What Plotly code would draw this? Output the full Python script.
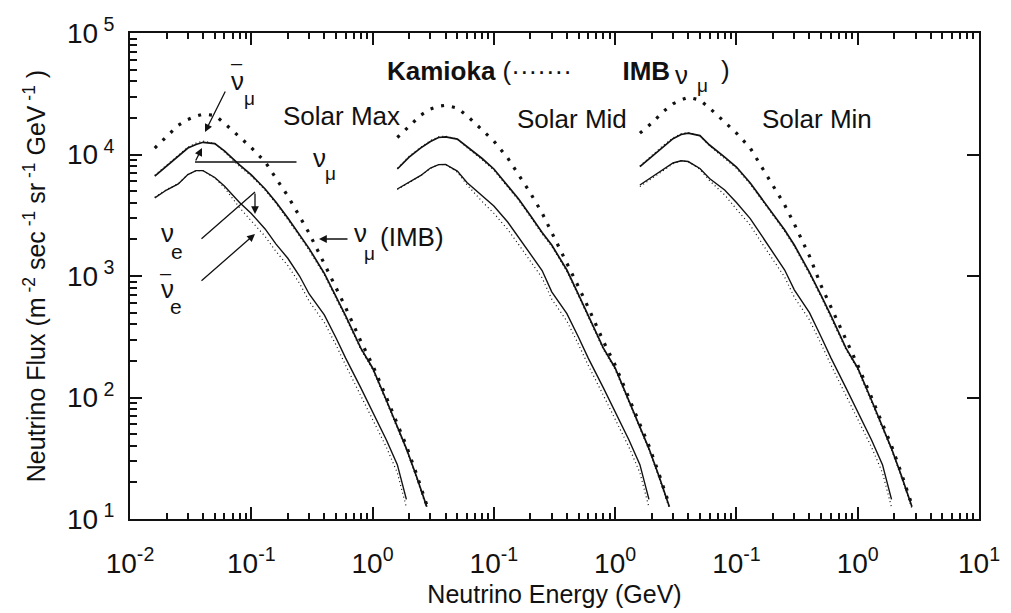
import plotly.graph_objects as go

INK = "#111111"
FONT = "Liberation Sans, Arial, Helvetica, sans-serif"

# ---------------- data ----------------
ENERGY_GEV = [0.016, 0.02, 0.025, 0.03, 0.035, 0.04, 0.05, 0.06, 0.08, 0.1, 0.13, 0.16,
              0.2, 0.25, 0.3, 0.4, 0.5, 0.6, 0.8, 1.0, 1.3, 1.6, 1.9, 2.3, 2.8]

PANEL_LABELS = ["Solar Max", "Solar Mid", "Solar Min"]
PANEL_SHIFT_DECADES = [0, 2, 4]

# Solar Max
IMB_NUMU_MAX = [11300, 14100, 17400, 19400, 20700, 21500, 21000, 18100, 13900, 11400, 8700, 6300,
                4550, 3100, 2250, 1260, 800, 550, 290, 185, 100, 60, 40, 23.5, 13]
NUMU_MAX = [6650, 8000, 9800, 11300, 12100, 12600, 12300, 10700, 8200, 6800, 5200, 4050,
            3000, 2200, 1680, 1050, 680, 470, 255, 175, 95, 57, 38, 22.5, 12.6]
NUMUBAR_MAX = [6750, 8150, 10000, 11500, 12400, 12900, 12300, 10500, 8000, 6650, 5100, 3950,
               2920, 2140, 1630, 1020, 660, 455, 248, 170, 92, 55, 37, 21.8, 12.2]
NUE_MAX = [4390, 5100, 5720, 6840, 7360, 7360, 6470, 5510, 4030, 3270, 2440, 1830,
           1400, 1000, 711, 478, 309, 211, 120, 77, 44.7, 28, 14.5, None, None]
NUEBAR_MAX = [4450, 5150, 5750, 6840, 7360, 7360, 6400, 5350, 3650, 2850, 2120, 1590,
              1220, 870, 620, 415, 270, 184, 104, 67, 39, 24, 12.5, None, None]

# Solar Mid
IMB_NUMU_MID = [13800, 17200, 21100, 23700, 25000, 25400, 24100, 20900, 15900, 12900, 9360, 6780,
                4820, 3300, 2300, 1280, 810, 550, 290, 185, 100, 60, 40, 23.5, 13]
NUMU_MID = [7600, 9530, 11350, 12800, 13800, 13950, 13400, 11600, 9270, 7600, 5510, 4300,
            3150, 2280, 1800, 1120, 700, 475, 255, 175, 95, 57, 38, 22.5, 12.6]
NUMUBAR_MID = [7700, 9650, 11500, 13000, 14000, 14150, 13400, 11400, 9050, 7430, 5400, 4200,
               3070, 2220, 1750, 1090, 680, 460, 248, 170, 92, 55, 37, 21.8, 12.2]
NUE_MID = [5200, 5940, 6720, 7740, 8250, 8280, 7310, 5890, 4550, 3770, 2780, 2090,
           1530, 1110, 740, 490, 312, 211, 120, 77, 44.7, 28, 14.5, None, None]
NUEBAR_MID = [5150, 5900, 6700, 7700, 8250, 8280, 7150, 5650, 4100, 3280, 2420, 1820,
              1330, 965, 645, 425, 272, 184, 104, 67, 39, 24, 12.5, None, None]

# Solar Min
IMB_NUMU_MIN = [15000, 18100, 22600, 26100, 28100, 29500, 28100, 24100, 18500, 15000, 11300, 8040,
                5510, 3840, 2680, 1460, 828, 560, 292, 185, 100, 60, 40, 23.5, 13]
NUMU_MIN = [7940, 9640, 11700, 13500, 14600, 15000, 14300, 11970, 9530, 7890, 5820, 4390,
            3240, 2390, 1800, 1070, 690, 475, 255, 175, 95, 57, 38, 22.5, 12.6]
NUMUBAR_MIN = [8050, 9800, 11900, 13700, 14800, 15200, 14300, 11800, 9300, 7700, 5700, 4300,
               3160, 2330, 1750, 1040, 670, 460, 248, 170, 92, 55, 37, 21.8, 12.2]
NUE_MIN = [5610, 6470, 7530, 8510, 8870, 8750, 7670, 6340, 5100, 4030, 2970, 2170,
           1580, 1120, 770, 500, 315, 213, 120, 77, 44.7, 28, 14.5, None, None]
NUEBAR_MIN = [5450, 6300, 7400, 8400, 8870, 8750, 7550, 6100, 4650, 3550, 2620, 1900,
              1380, 980, 670, 435, 275, 186, 104, 67, 39, 24, 12.5, None, None]

X_TICK_VALUES = [1e-2, 1e-1, 1e0, 1e1, 1e2, 1e3, 1e4, 1e5]
X_TICK_TEXT = ["10<sup>-2</sup>", "10<sup>-1</sup>", "10<sup>0</sup>", "10<sup>-1</sup>",
               "10<sup>0</sup>", "10<sup>-1</sup>", "10<sup>0</sup>", "10<sup>1</sup>"]
Y_TICK_VALUES = [1e1, 1e2, 1e3, 1e4, 1e5]
Y_TICK_TEXT = ["10<sup> 1</sup>", "10<sup> 2</sup>", "10<sup> 3</sup>", "10<sup> 4</sup>", "10<sup> 5</sup>"]

# minor (log) tick positions: 2..9 within each decade
X_MINOR = [d * 10.0 ** p for p in range(-2, 5) for d in range(2, 10)]
Y_MINOR = [d * 10.0 ** p for p in range(1, 5) for d in range(2, 10)]

# ---------------- figure ----------------
W, H = 1011, 613
ML, MR, MT, MB = 130, 32, 33, 94
PW, PH = W - ML - MR, H - MT - MB


def lx(px):  # pixel -> log10 axis units (for annotations)
    return -2 + 7 * (px - ML) / PW


def ly(py):
    return 5 - 4 * (py - MT) / PH


fig = go.Figure()

panels = [
    (PANEL_SHIFT_DECADES[0], IMB_NUMU_MAX, NUMU_MAX, NUMUBAR_MAX, NUE_MAX, NUEBAR_MAX, "x", "y"),
    (PANEL_SHIFT_DECADES[1], IMB_NUMU_MID, NUMU_MID, NUMUBAR_MID, NUE_MID, NUEBAR_MID, "x", "y"),
    # third panel lives on the overlay axes (identical ranges) that carry the minor ticks
    (PANEL_SHIFT_DECADES[2], IMB_NUMU_MIN, NUMU_MIN, NUMUBAR_MIN, NUE_MIN, NUEBAR_MIN, "x2", "y2"),
]

for shift, imb, numu, numubar, nue, nuebar, xa, ya in panels:
    xs = [e * 10 ** shift for e in ENERGY_GEV]
    common = dict(mode="lines", xaxis=xa, yaxis=ya)
    fig.add_trace(go.Scatter(x=xs, y=nuebar, **common,
                             line=dict(color=INK, width=1.2, dash="1px,3px")))
    fig.add_trace(go.Scatter(x=xs, y=numubar, **common,
                             line=dict(color=INK, width=1.2, dash="1px,3px")))
    fig.add_trace(go.Scatter(x=xs, y=nue, **common,
                             line=dict(color=INK, width=1.4)))
    fig.add_trace(go.Scatter(x=xs, y=numu, **common,
                             line=dict(color=INK, width=1.7)))
    fig.add_trace(go.Scatter(x=xs, y=imb, **common,
                             line=dict(color=INK, width=3.2, dash="3px,8px")))

annotations = []


def text(px, py, s, size=26, xanchor="center"):
    annotations.append(dict(x=lx(px), y=ly(py), xref="x", yref="y", text=s, showarrow=False,
                            xanchor=xanchor, yanchor="middle",
                            font=dict(size=size, color=INK, family=FONT)))


def arrow(tail, head, head_style=2):
    annotations.append(dict(x=lx(head[0]), y=ly(head[1]), xref="x", yref="y", text="",
                            showarrow=True, ax=tail[0] - head[0], ay=tail[1] - head[1],
                            arrowhead=head_style, arrowsize=1.2, arrowwidth=1.3,
                            arrowcolor=INK, standoff=0, startstandoff=0))


# panel labels
text(341, 116, PANEL_LABELS[0])
text(572, 119, PANEL_LABELS[1])
text(817, 119, PANEL_LABELS[2])

# header line
text(385, 71, "<b>Kamioka</b> (\u00b7\u00b7\u00b7\u00b7\u00b7\u00b7\u00b7\u00a0\u00a0\u00a0\u00a0\u00a0\u00a0\u00a0<b>IMB</b>",
     size=26, xanchor="left")
text(681, 75, "\u03bd", size=26)
text(702, 85, "\u03bc", size=19)
text(725, 70, ")", size=26)

# curve labels
text(237, 63, "\u2013", size=20)
text(237, 81, "\u03bd", size=26)
text(249, 98, "\u03bc", size=19)
text(319, 158, "\u03bd", size=26)
text(330, 173, "\u03bc", size=19)
text(167, 233, "\u03bd", size=26)
text(177, 251, "e", size=21)
text(166, 273, "\u2013", size=20)
text(167, 289, "\u03bd", size=26)
text(176, 306, "e", size=21)
text(360, 233, "\u03bd", size=26)
text(369, 253, "\u03bc", size=19)
text(378, 237, "(IMB)", size=26, xanchor="left")

# arrows
arrow((226, 90), (205, 132))
arrow((298, 162), (195, 162), head_style=0)
arrow((195, 162), (202, 148), head_style=2)
arrow((200, 240), (255, 192), head_style=0)
arrow((255, 192), (255, 214), head_style=2)
arrow((200, 282), (255, 234), head_style=2)
arrow((349, 239), (319, 239), head_style=2)

axis_common = dict(
    type="log", showgrid=False, zeroline=False,
    showline=True, linewidth=2, linecolor=INK, mirror="allticks",
    ticks="inside", ticklen=12, tickwidth=2, tickcolor=INK,
    tickfont=dict(size=28, color=INK, family=FONT),
    automargin=False,
)

fig.update_layout(
    width=W, height=H,
    margin=dict(l=ML, r=MR, t=MT, b=MB),
    paper_bgcolor="white", plot_bgcolor="white",
    showlegend=False,
    font=dict(family=FONT, color=INK),
    xaxis=dict(**axis_common, range=[-2, 5], tickmode="array",
               tickvals=X_TICK_VALUES, ticktext=X_TICK_TEXT, ticklabelstandoff=18,
               title=dict(text="Neutrino Energy (GeV)", font=dict(size=25, color=INK, family=FONT),
                          standoff=8)),
    yaxis=dict(**axis_common, range=[1, 5], tickmode="array",
               tickvals=Y_TICK_VALUES, ticktext=Y_TICK_TEXT, ticklabelstandoff=8,
               title=dict(text="Neutrino Flux (m<sup> -2</sup> sec<sup> -1</sup> sr<sup> -1</sup> GeV<sup> -1</sup> )",
                          font=dict(size=25, color=INK, family=FONT), standoff=14)),
    xaxis2=dict(type="log", range=[-2, 5], overlaying="x", anchor="y2", side="bottom",
                tickmode="array", tickvals=X_MINOR, ticks="inside", ticklen=6, tickwidth=1.5,
                tickcolor=INK, showticklabels=False, showline=False, showgrid=False,
                zeroline=False, mirror="ticks", automargin=False),
    yaxis2=dict(type="log", range=[1, 5], overlaying="y", anchor="x2", side="left",
                tickmode="array", tickvals=Y_MINOR, ticks="inside", ticklen=7, tickwidth=1.5,
                tickcolor=INK, showticklabels=False, showline=False, showgrid=False,
                zeroline=False, automargin=False),
    annotations=annotations,
)

fig.write_html("out.html")
